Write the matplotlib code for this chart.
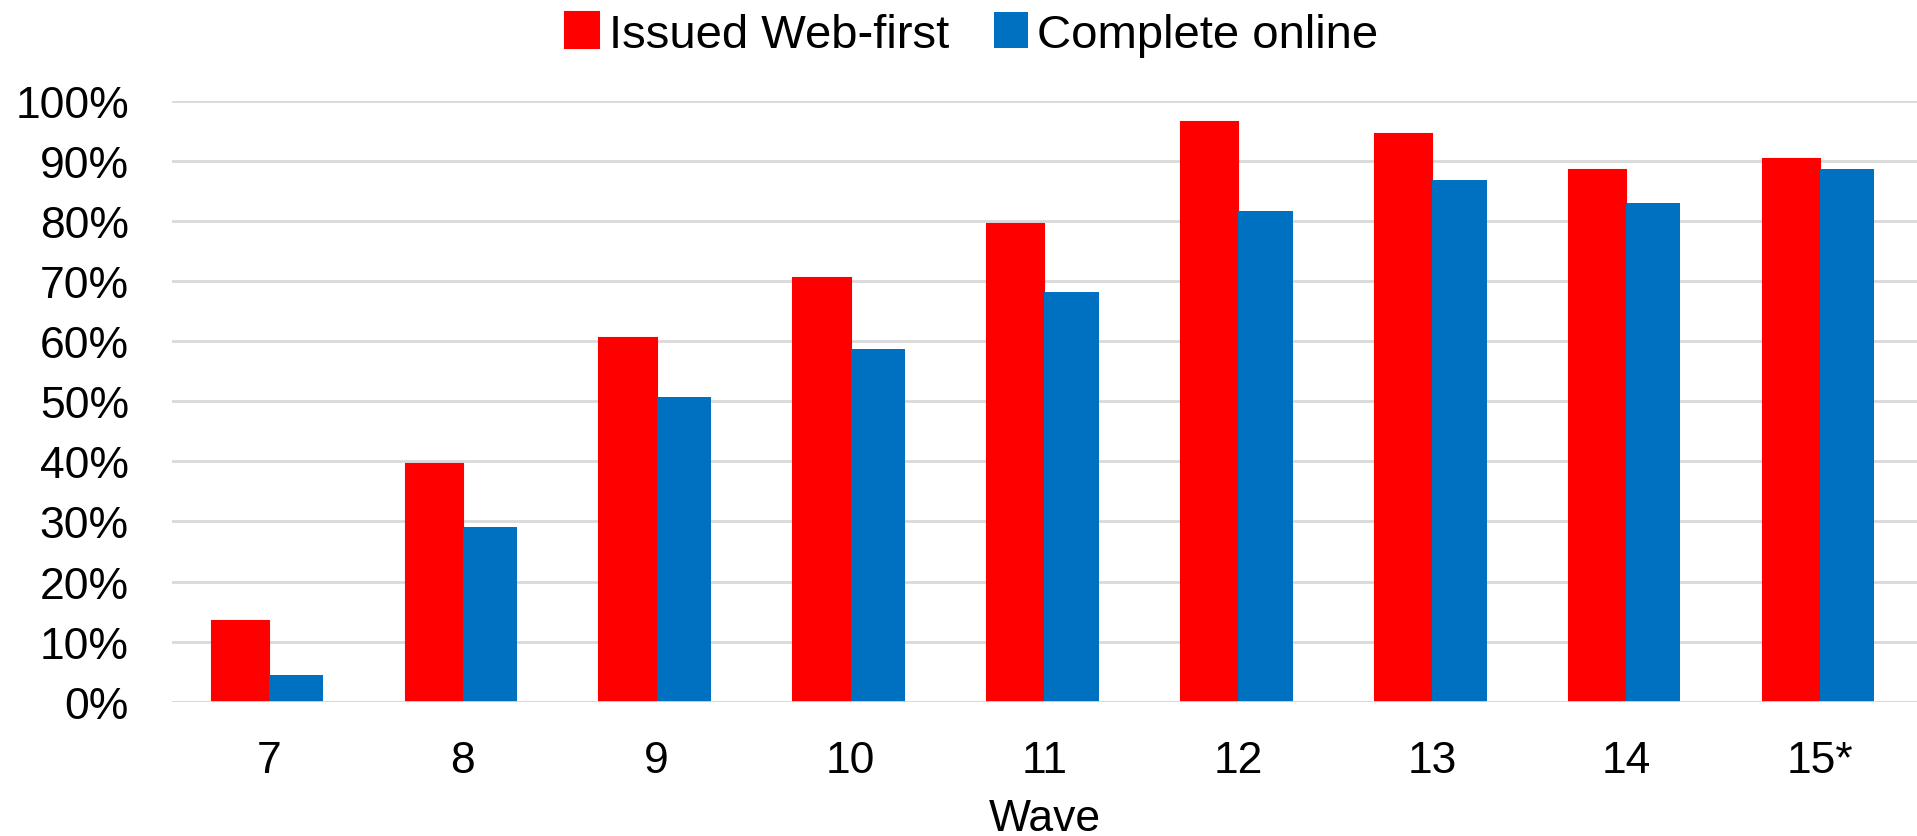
import numpy as np
import matplotlib.pyplot as plt
from matplotlib.ticker import PercentFormatter

plt.rcParams['font.family'] = ['Liberation Sans', 'DejaVu Sans']

waves = ['7', '8', '9', '10', '11', '12', '13', '14', '15*']
issued_web_first = [13.5, 39.5, 60.6, 70.5, 79.6, 96.5, 94.5, 88.5, 90.4]
complete_online = [4.5, 29.1, 50.7, 58.7, 68.3, 81.7, 86.9, 83.0, 88.8]

red = '#FF0000'
blue = '#0070C0'

fig = plt.figure(figsize=(19.17, 8.37), dpi=100)
ax = fig.add_axes([0.0897, 0.1606, 0.9103, 0.7172])

x = np.arange(len(waves))
ax.bar(x, issued_web_first, width=0.295, align='edge', color=red,
       edgecolor=red, linewidth=1.5, label='Issued Web-first', zorder=2)
ax.bar(x, complete_online, width=0.28, align='edge', color=blue,
       label='Complete online', zorder=3)
# shift red bars to the left half of each group
for p in ax.patches[:len(waves)]:
    p.set_x(p.get_x() - p.get_width())

ax.axhline(0, color='#D9D9D9', linewidth=2, zorder=4)

ax.set_xlim(-0.5, len(waves) - 0.5)
ax.set_ylim(0, 100)
ax.set_yticks(np.arange(0, 101, 10))
ax.yaxis.set_major_formatter(PercentFormatter(decimals=0))
ax.set_xticks(x)
ax.set_xticklabels(waves)
ax.tick_params(axis='both', length=0, labelsize=32)
ax.tick_params(axis='x', pad=28)
ax.tick_params(axis='y', pad=31)
ax.grid(axis='y', color='#D9D9D9', linewidth=2, zorder=0)
ax.set_axisbelow(True)
for s in ax.spines.values():
    s.set_visible(False)

ax.set_xlabel('Wave', fontsize=32, labelpad=12)

fig.legend(loc='upper center', bbox_to_anchor=(0.507, 1.035), ncol=2,
           frameon=False, fontsize=34, handlelength=0.72, handleheight=0.8,
           handletextpad=0.2, columnspacing=0.95)

fig.savefig('out.png', dpi=100)
